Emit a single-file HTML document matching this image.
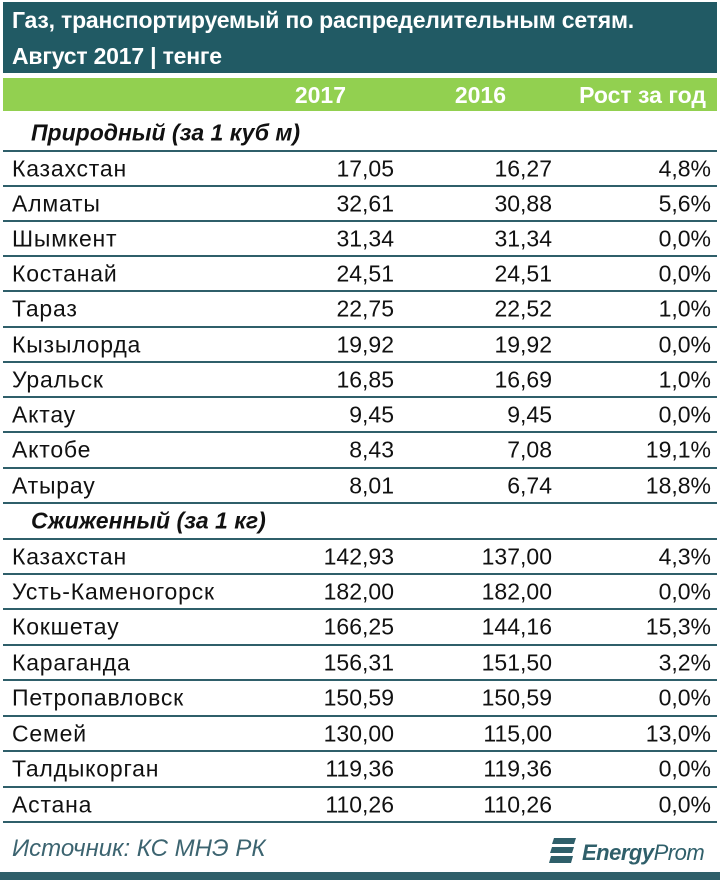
<!DOCTYPE html>
<html><head><meta charset="utf-8"><style>
body{margin:0;width:720px;height:880px;background:#fff;position:relative;overflow:hidden;font-family:"Liberation Sans",sans-serif;}
.a{position:absolute;white-space:nowrap;}
.title{left:3px;top:2px;width:714px;height:71px;background:#215a64;}
.t{color:#fff;font-weight:bold;font-size:23px;left:12px;letter-spacing:-0.2px;}
.green{left:3px;top:78px;width:714px;height:33px;background:#92d050;}
.h{color:#fff;font-weight:bold;font-size:23px;top:82px;text-align:right;}
.row{position:absolute;left:3px;width:714px;border-bottom:2px solid #2f5f6a;font-size:23px;color:#111;}
.row span{position:absolute;top:50%;transform:translateY(-50%);}
.n{left:9px;letter-spacing:0.8px;}
.c1{right:323px;}.c2{right:165px;}.c3{right:6px;}
.sec{font-style:italic;font-weight:bold;left:28px !important;letter-spacing:0 !important;}
</style></head><body>
<div class="a title"></div>
<div class="a t" style="top:7px">Газ, транспортируемый по распределительным сетям.</div>
<div class="a t" style="top:43px">Август 2017 | тенге</div>
<div class="a green"></div>
<div class="a h" style="right:374px">2017</div>
<div class="a h" style="right:214px">2016</div>
<div class="a h" style="right:14px">Рост за год</div>

<div class="row" style="top:115px;height:35px;border-bottom-width:2px"><span class="n sec">Природный (за 1 куб м)</span></div>
<div class="row" style="top:152px;height:33px"><span class="n">Казахстан</span><span class="c1">17,05</span><span class="c2">16,27</span><span class="c3">4,8%</span></div>
<div class="row" style="top:187px;height:33px"><span class="n">Алматы</span><span class="c1">32,61</span><span class="c2">30,88</span><span class="c3">5,6%</span></div>
<div class="row" style="top:222px;height:33px"><span class="n">Шымкент</span><span class="c1">31,34</span><span class="c2">31,34</span><span class="c3">0,0%</span></div>
<div class="row" style="top:257px;height:33px"><span class="n">Костанай</span><span class="c1">24,51</span><span class="c2">24,51</span><span class="c3">0,0%</span></div>
<div class="row" style="top:292px;height:34px"><span class="n">Тараз</span><span class="c1">22,75</span><span class="c2">22,52</span><span class="c3">1,0%</span></div>
<div class="row" style="top:328px;height:33px"><span class="n">Кызылорда</span><span class="c1">19,92</span><span class="c2">19,92</span><span class="c3">0,0%</span></div>
<div class="row" style="top:363px;height:33px"><span class="n">Уральск</span><span class="c1">16,85</span><span class="c2">16,69</span><span class="c3">1,0%</span></div>
<div class="row" style="top:398px;height:33px"><span class="n">Актау</span><span class="c1">9,45</span><span class="c2">9,45</span><span class="c3">0,0%</span></div>
<div class="row" style="top:433px;height:34px"><span class="n">Актобе</span><span class="c1">8,43</span><span class="c2">7,08</span><span class="c3">19,1%</span></div>
<div class="row" style="top:469px;height:33px"><span class="n">Атырау</span><span class="c1">8,01</span><span class="c2">6,74</span><span class="c3">18,8%</span></div>
<div class="row" style="top:504px;height:34px"><span class="n sec">Сжиженный (за 1 кг)</span></div>
<div class="row" style="top:540px;height:33px"><span class="n">Казахстан</span><span class="c1">142,93</span><span class="c2">137,00</span><span class="c3">4,3%</span></div>
<div class="row" style="top:575px;height:33px"><span class="n">Усть-Каменогорск</span><span class="c1">182,00</span><span class="c2">182,00</span><span class="c3">0,0%</span></div>
<div class="row" style="top:610px;height:34px"><span class="n">Кокшетау</span><span class="c1">166,25</span><span class="c2">144,16</span><span class="c3">15,3%</span></div>
<div class="row" style="top:646px;height:33px"><span class="n">Караганда</span><span class="c1">156,31</span><span class="c2">151,50</span><span class="c3">3,2%</span></div>
<div class="row" style="top:681px;height:34px"><span class="n">Петропавловск</span><span class="c1">150,59</span><span class="c2">150,59</span><span class="c3">0,0%</span></div>
<div class="row" style="top:717px;height:33px"><span class="n">Семей</span><span class="c1">130,00</span><span class="c2">115,00</span><span class="c3">13,0%</span></div>
<div class="row" style="top:752px;height:34px"><span class="n">Талдыкорган</span><span class="c1">119,36</span><span class="c2">119,36</span><span class="c3">0,0%</span></div>
<div class="row" style="top:788px;height:33px"><span class="n">Астана</span><span class="c1">110,26</span><span class="c2">110,26</span><span class="c3">0,0%</span></div>

<div class="a" style="left:12px;top:835px;font-size:24px;font-style:italic;color:#3c6470;">Источник: КС МНЭ РК</div>
<svg class="a" style="left:548px;top:836px" width="32" height="30" viewBox="0 0 32 30">
<path d="M6 2h22l-2 6H4z M4 11h22l-2 6H2z M3 20h22l-2 7H1z" fill="#2f5f6a"/></svg>
<div class="a" style="left:582px;top:840px;font-size:22px;font-style:italic;color:#2f5f6a;letter-spacing:-0.5px"><b>Energy</b>Prom</div>
<div class="a" style="left:0;top:872px;width:720px;height:8px;background:#2f5f6a"></div>
</body></html>
